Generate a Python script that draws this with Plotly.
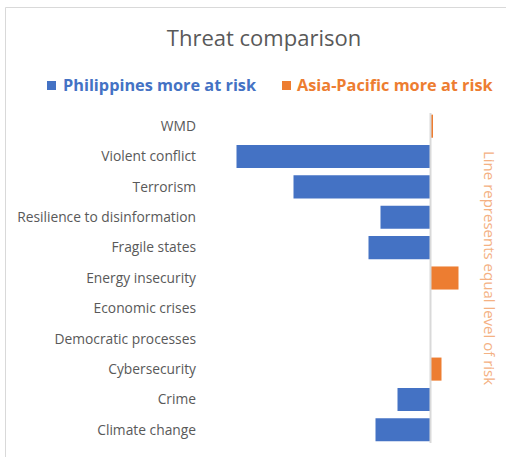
import plotly.graph_objects as go

# Threat categories, top to bottom
threats = [
    "WMD",
    "Violent conflict",
    "Terrorism",
    "Resilience to disinformation",
    "Fragile states",
    "Energy insecurity",
    "Economic crises",
    "Democratic processes",
    "Cybersecurity",
    "Crime",
    "Climate change",
]

# Risk gap per threat: negative = Philippines more at risk, positive = Asia-Pacific more at risk
philippines_gap = [0, -19.4, -13.7, -5.0, -6.2, 0, 0, 0, 0, -3.3, -5.5]
asia_pacific_gap = [0.25, 0, 0, 0, 0, 2.8, 0, 0, 1.1, 0, 0]

series_names = ["Philippines more at risk", "Asia-Pacific more at risk"]
series_colors = ["#4472C4", "#ED7D31"]

FONT = "Open Sans"
TEXT_GREY = "#595959"

fig = go.Figure()
for name, vals, color in zip(series_names, [philippines_gap, asia_pacific_gap], series_colors):
    fig.add_trace(
        go.Bar(
            y=threats,
            x=vals,
            orientation="h",
            name=name,
            marker=dict(color=color, line=dict(width=0)),
            hoverinfo="y+x",
            showlegend=False,
        )
    )

# Plot area geometry (pixels)
L, R, T, B = 205, 36, 111, 12
W, H = 506, 457
pw = W - L - R
ph = H - T - B


def px_x(x):
    return (x - L) / pw


def px_y(y):
    return (H - B - y) / ph


# Key above the chart: coloured square + bold coloured caption per series
key_squares = [(47, 56), (282, 291)]
key_text_x = [60.5, 295]
key_shapes = []
key_notes = []
for name, color, (sx0, sx1), tx in zip(series_names, series_colors, key_squares, key_text_x):
    key_shapes.append(
        dict(
            type="rect",
            xref="paper",
            yref="paper",
            x0=px_x(sx0),
            x1=px_x(sx1),
            y0=px_y(90),
            y1=px_y(81),
            line=dict(width=0),
            fillcolor=color,
        )
    )
    key_notes.append(
        dict(
            text=f"<b>{name}</b>",
            xref="paper",
            yref="paper",
            x=px_x(tx),
            y=px_y(85.5),
            xanchor="left",
            yanchor="middle",
            showarrow=False,
            font=dict(family=FONT, size=16.3, color=color),
        )
    )

fig.update_layout(
    width=W,
    height=H,
    margin=dict(l=L, r=R, t=T, b=B, pad=0),
    paper_bgcolor="white",
    plot_bgcolor="white",
    barmode="relative",
    bargap=0.24,
    font=dict(family=FONT, color=TEXT_GREY, size=13),
    title=dict(
        text="Threat comparison",
        x=264 / W,
        xanchor="center",
        y=1 - 38 / H,
        yanchor="middle",
        font=dict(family=FONT, size=22, color=TEXT_GREY),
    ),
    showlegend=False,
    xaxis=dict(
        range=[-22.55, 3.95],
        showgrid=False,
        zeroline=False,
        showticklabels=False,
        showline=False,
        ticks="",
        fixedrange=True,
    ),
    yaxis=dict(
        categoryorder="array",
        categoryarray=threats,
        autorange="reversed",
        showgrid=False,
        zeroline=False,
        showline=False,
        ticks="",
        ticklabelstandoff=8,
        tickfont=dict(family=FONT, size=13.8, color=TEXT_GREY),
        fixedrange=True,
    ),
    shapes=[
        # equal-risk reference line at zero
        dict(
            type="line",
            xref="x",
            yref="paper",
            x0=0,
            x1=0,
            y0=0.006,
            y1=0.994,
            line=dict(color="#D9D9D9", width=2),
            layer="above",
        ),
        # chart frame
        dict(
            type="rect",
            xref="paper",
            yref="paper",
            x0=px_x(5.5),
            x1=px_x(515),
            y0=px_y(465),
            y1=px_y(7.5),
            line=dict(color="#D9D9D9", width=1),
            fillcolor="rgba(0,0,0,0)",
            layer="below",
        ),
    ]
    + key_shapes,
    annotations=[
        dict(
            text="Line represents equal level of risk",
            xref="paper",
            yref="paper",
            x=px_x(490),
            y=px_y(268),
            xanchor="center",
            yanchor="middle",
            textangle=90,
            showarrow=False,
            font=dict(family=FONT, size=15, color="#F4B183"),
        )
    ]
    + key_notes,
)

fig.write_html("out.html")
